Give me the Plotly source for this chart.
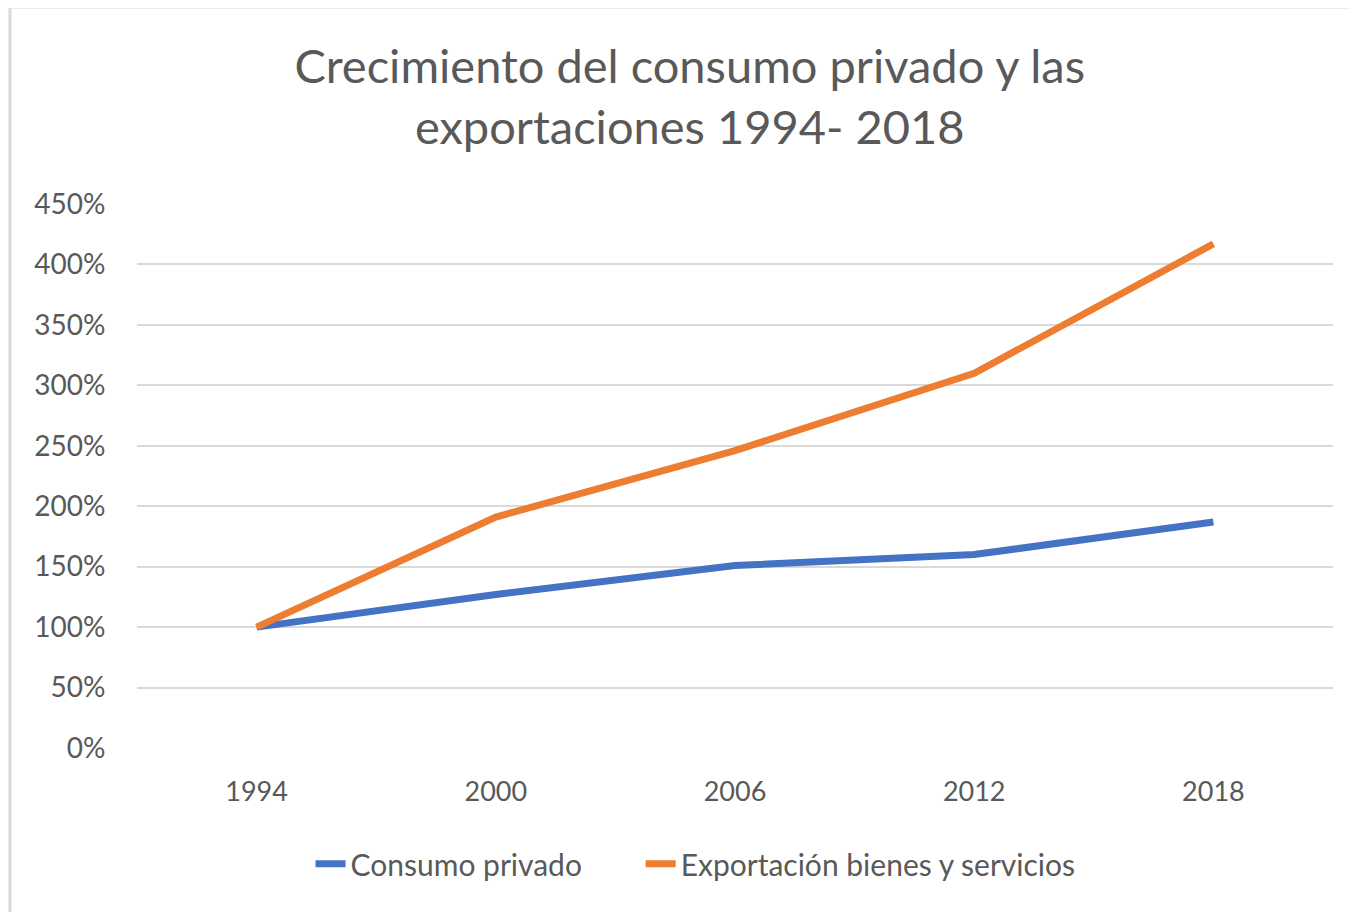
import plotly.graph_objects as go

# datos (indice, 1994 = 100%)
years = ["1994", "2000", "2006", "2012", "2018"]
consumo_privado = [1.00, 1.27, 1.51, 1.60, 1.87]
exportaciones = [1.00, 1.91, 2.46, 3.10, 4.17]
y_ticks = [0, 0.5, 1.0, 1.5, 2.0, 2.5, 3.0, 3.5, 4.0, 4.5]
y_labels = ["0%", "50%", "100%", "150%", "200%", "250%", "300%", "350%", "400%", "450%"]

FONT = "Lato"
GRAY = "#595959"
PAD = "\u00a0" * 7  # separacion entre entradas de la leyenda

fig = go.Figure()

fig.add_trace(go.Scatter(
    x=years, y=consumo_privado, name="Consumo privado" + PAD,
    mode="lines", line=dict(color="#4472C4", width=7),
))
fig.add_trace(go.Scatter(
    x=years, y=exportaciones, name="Exportación bienes y servicios",
    mode="lines", line=dict(color="#ED7D31", width=7),
))

fig.update_layout(
    width=1350, height=904,
    margin=dict(l=129, r=25, t=196, b=164),
    paper_bgcolor="white", plot_bgcolor="white",
    font=dict(family=FONT, color=GRAY),
    title=dict(
        text="Crecimiento del consumo privado y las<br>exportaciones 1994- 2018",
        x=0.505, xanchor="center", y=0.917, yanchor="middle",
        yref="container",
        font=dict(size=47, color=GRAY, family=FONT),
    ),
    showlegend=True,
    legend=dict(
        orientation="h", x=0.467, xanchor="center", y=-0.213, yanchor="middle",
        font=dict(size=30, color=GRAY),
        traceorder="normal",
    ),
    xaxis=dict(
        type="category", range=[-0.5, 4.5],
        showgrid=False, zeroline=False, showline=False,
        ticks="outside", ticklen=20, tickcolor="rgba(0,0,0,0)",
        tickfont=dict(size=27, color=GRAY),
    ),
    yaxis=dict(
        range=[0, 4.5], tickvals=y_ticks, ticktext=y_labels,
        showgrid=True, gridcolor="#D9D9D9", gridwidth=2,
        zeroline=False, showline=False,
        ticks="outside", ticklen=25, tickcolor="rgba(0,0,0,0)",
        tickfont=dict(size=28, color=GRAY),
    ),
    shapes=[
        # marco del grafico (solo borde superior e izquierdo visibles)
        dict(type="line", xref="paper", yref="paper",
             x0=-0.1062, x1=1.1, y0=1.3621, y1=1.3621,
             line=dict(color="#D9D9D9", width=3)),
        dict(type="line", xref="paper", yref="paper",
             x0=-0.1062, x1=-0.1062, y0=1.3621, y1=-0.32,
             line=dict(color="#D9D9D9", width=3)),
    ],
)

fig.write_html("out.html")
